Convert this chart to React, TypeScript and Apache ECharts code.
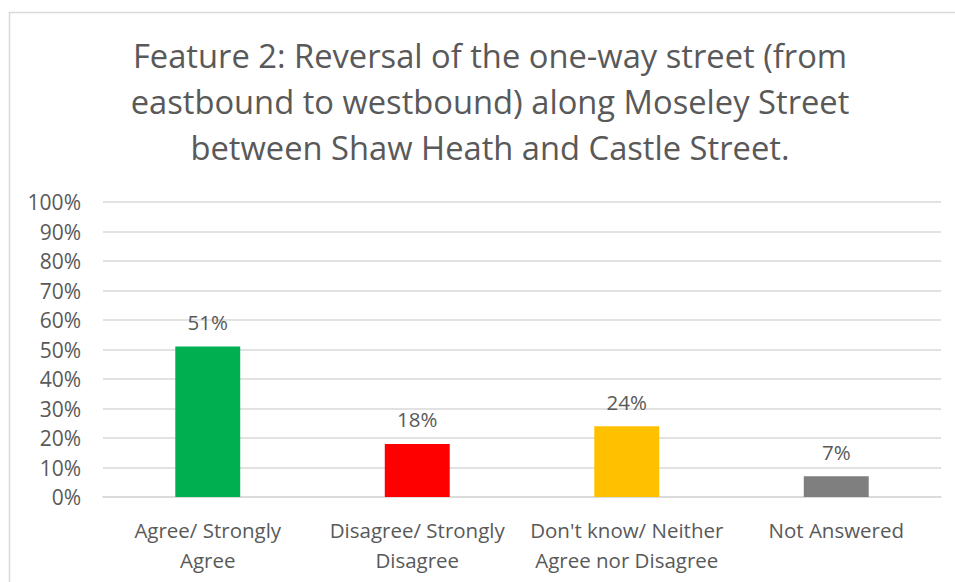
import React, { useEffect, useRef } from "react";
import * as echarts from "echarts";

const categories = [
  "Agree/ Strongly\nAgree",
  "Disagree/ Strongly\nDisagree",
  "Don't know/ Neither\nAgree nor Disagree",
  "Not Answered",
];
const values = [51, 18, 24, 7];
const colors = ["#00B050", "#FF0000", "#FFC000", "#7F7F7F"];
const titleText =
  "Feature 2: Reversal of the one-way street (from\neastbound to westbound) along Moseley Street\nbetween Shaw Heath and Castle Street.";

const FONT = "'Open Sans', sans-serif";
const GREY = "#595959";

export default function App() {
  const ref = useRef<HTMLDivElement>(null);
  useEffect(() => {
    document.body.style.margin = "0";
    const chart = echarts.init(ref.current!, null, { renderer: "svg" });
    chart.setOption({
      animation: false,
      backgroundColor: "#ffffff",
      textStyle: { fontFamily: FONT },
      graphic: [
        {
          type: "rect",
          shape: { x: 9.5, y: 12.5, width: 1000, height: 700 },
          style: { fill: "none", stroke: "#D9D9D9", lineWidth: 1.5 },
          silent: true,
        },
        {
          type: "text",
          x: 490,
          y: 32,
          style: {
            text: titleText,
            fill: GREY,
            font: `32.7px ${FONT}`,
            align: "center",
            verticalAlign: "top",
            lineHeight: 46,
          },
        },
      ],
      grid: { left: 103, right: 14, top: 202, bottom: 85, containLabel: false },
      xAxis: {
        type: "category",
        data: categories,
        axisLine: { lineStyle: { color: "#D9D9D9", width: 1.5 } },
        axisTick: { show: false },
        axisLabel: {
          color: GREY,
          fontSize: 20.5,
          fontFamily: FONT,
          lineHeight: 30,
          margin: 18,
          interval: 0,
        },
      },
      yAxis: {
        type: "value",
        min: 0,
        max: 100,
        interval: 10,
        axisLine: { show: false },
        axisTick: { show: false },
        splitLine: { lineStyle: { color: "#D9D9D9", width: 1.5 } },
        axisLabel: {
          color: GREY,
          fontSize: 21,
          fontFamily: FONT,
          margin: 22,
          formatter: (v: number) => `${v}%`,
        },
      },
      series: [
        {
          type: "bar",
          barWidth: "31%",
          data: values.map((v, i) => ({ value: v, itemStyle: { color: colors[i] } })),
          label: {
            show: true,
            position: "top",
            distance: 14,
            color: GREY,
            fontSize: 20.5,
            fontFamily: FONT,
            formatter: (p: any) => `${p.value}%`,
          },
        },
      ],
    });
    return () => chart.dispose();
  }, []);
  return <div ref={ref} style={{ width: 955, height: 582 }} />;
}
